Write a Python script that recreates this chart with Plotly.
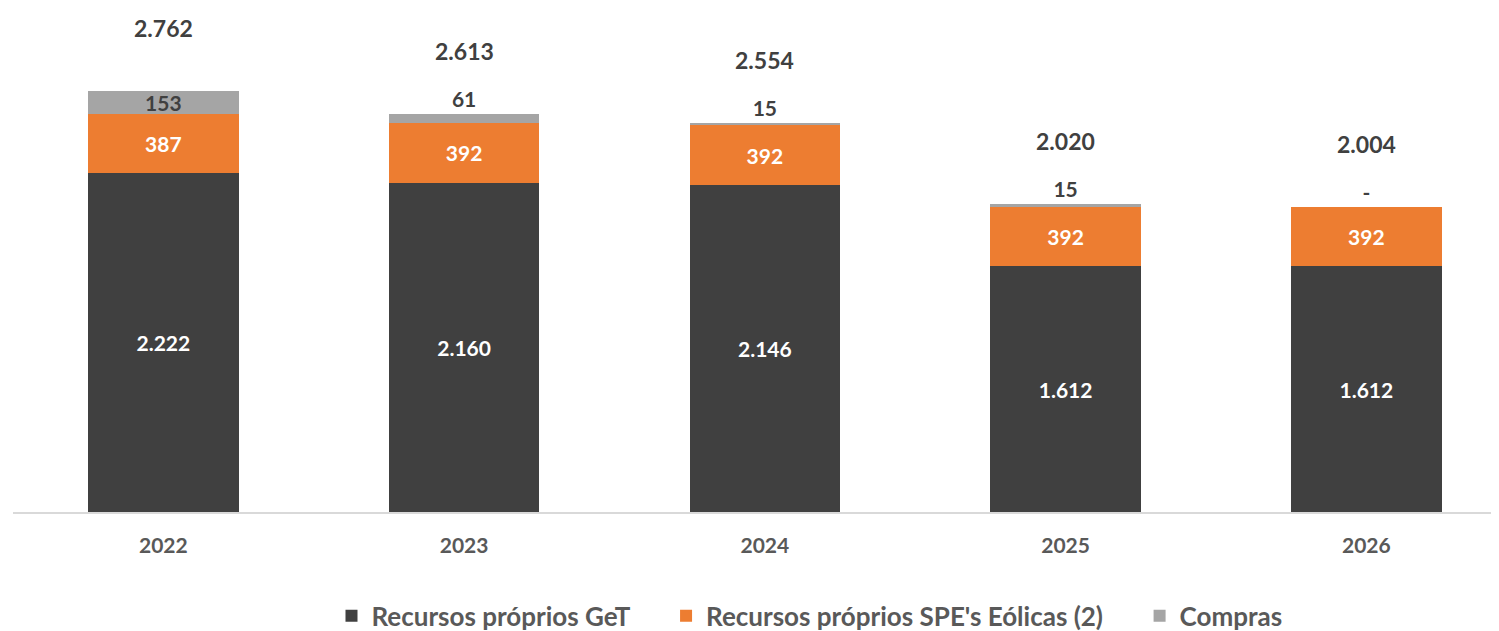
import plotly.graph_objects as go

YEARS = ["2022", "2023", "2024", "2025", "2026"]
GET_OWN = [2222, 2160, 2146, 1612, 1612]
SPE_EOLICAS = [387, 392, 392, 392, 392]
COMPRAS = [153, 61, 15, 15, 0]
TOTALS = [2762, 2613, 2554, 2020, 2004]
SERIES = ["Recursos próprios GeT", "Recursos próprios SPE's Eólicas (2)", "Compras"]

DARK = "#404040"
ORANGE = "#ED7D31"
GREY = "#A5A5A5"
TXT = "#595959"
FONT = "Lato, Open Sans, sans-serif"
PAD = "\u00a0" * 5  # extra room between legend entries


def fmt(v):
    if v == 0:
        return "-"
    return f"{v:,}".replace(",", ".")


fig = go.Figure()
fig.add_trace(go.Bar(
    x=YEARS, y=GET_OWN, name=SERIES[0] + PAD,
    marker=dict(color=DARK, line=dict(width=0)),
    text=[fmt(v) for v in GET_OWN], textposition="inside",
    textfont=dict(color="white"),
))
fig.add_trace(go.Bar(
    x=YEARS, y=SPE_EOLICAS, name=SERIES[1] + PAD,
    marker=dict(color=ORANGE, line=dict(width=0)),
    text=[fmt(v) for v in SPE_EOLICAS], textposition="inside",
    textfont=dict(color="white"),
))
fig.add_trace(go.Bar(
    x=YEARS, y=COMPRAS, name=SERIES[2],
    marker=dict(color=GREY, line=dict(width=0)),
    text=[fmt(v) for v in COMPRAS],
    textposition=["inside" if v > 100 else "outside" for v in COMPRAS],
    textfont=dict(color=DARK),
))
fig.update_traces(constraintext="none", cliponaxis=False, insidetextanchor="middle",
                  textfont_size=21, textfont_family=FONT, textfont_weight="bold")

# totals above each column
for i, tot in enumerate(TOTALS):
    fig.add_annotation(x=i, y=tot, xref="x", yref="y", text=fmt(tot), showarrow=False,
                       yshift=63, font=dict(color=DARK, size=23, family=FONT, weight="bold"))

fig.update_layout(
    width=1491, height=623,
    barmode="stack", bargap=0.5,
    paper_bgcolor="white", plot_bgcolor="white",
    margin=dict(l=5, r=0, t=0, b=119, autoexpand=False),
    font=dict(family=FONT, color=TXT, size=21),
    xaxis=dict(type="category", range=[-0.5, 4.441], showline=True, linecolor="#D9D9D9",
               linewidth=1.5, showgrid=False, ticks="", ticklabelstandoff=14,
               tickfont=dict(size=21, color=TXT, family=FONT, weight="bold")),
    yaxis=dict(range=[0, 3307], visible=False, showgrid=False, zeroline=False),
    legend=dict(orientation="h", x=0.536, xanchor="center", y=-0.206, yanchor="middle",
                font=dict(size=26, color=TXT, family=FONT, weight="bold"),
                itemwidth=30, traceorder="normal"),
    showlegend=True,
)

fig.write_html("out.html")
